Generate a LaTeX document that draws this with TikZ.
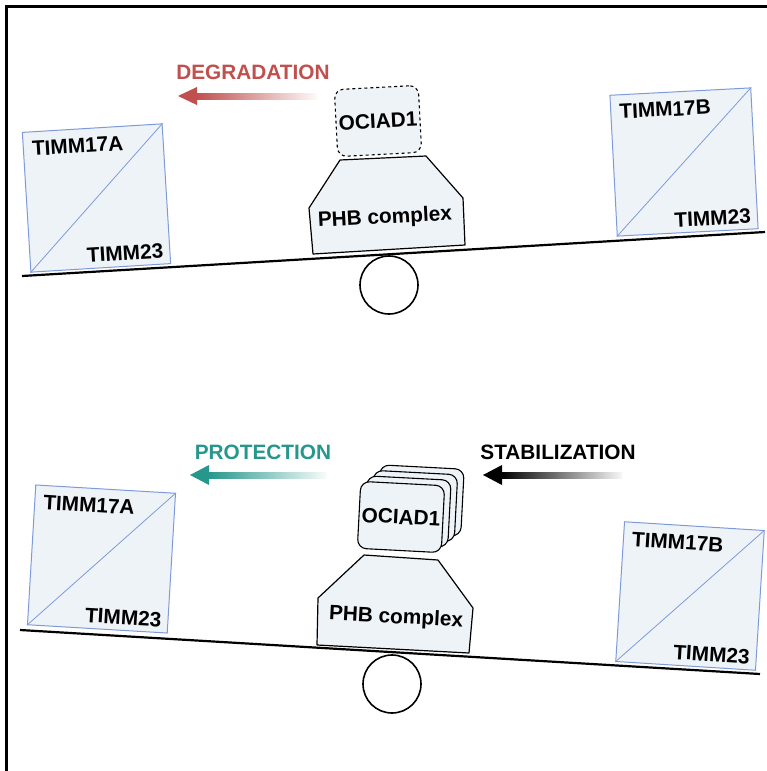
\documentclass[tikz,border=0pt]{standalone}
\usepackage{fontspec}
\setmainfont{Liberation Sans}
\definecolor{degred}{HTML}{C0504D}
\definecolor{protteal}{HTML}{26978B}
\definecolor{boxblue}{HTML}{7E9AD9}
\definecolor{boxfill}{HTML}{EEF3F8}

\begin{document}
\begin{tikzpicture}[x=1pt, y=-1pt,
    every node/.style={font=\fontsize{20.8}{24}\selectfont\bfseries},
    subunit/.style={draw=boxblue, fill=boxfill, line width=1pt, minimum size=140pt, inner sep=0pt},
    toplabel/.style={anchor=north west, inner xsep=9pt, inner ysep=10pt},
    botlabel/.style={anchor=south east, inner xsep=7pt, inner ysep=6pt},
    ociad/.style={draw, fill=boxfill, line width=1.1pt, rounded corners=9pt,
        minimum width=84pt, minimum height=67pt, inner sep=0pt},
    phb/.style={draw, fill=boxfill, line width=1.2pt, line join=round},
    beam/.style={line width=2.2pt},
    pivot/.style={circle, draw, line width=1.6pt, minimum size=58pt, inner sep=0pt}]
    \useasboundingbox (0,0) rectangle (767,771);

    % Frame
    \draw[line width=3.5pt] (6.5,771) -- (6.5,6.5) -- (767,6.5);

    % ---------------- Upper balance ----------------
    \coordinate (beamUpL) at (22,276);
    \coordinate (beamUpR) at (765,232);
    \draw[beam] (beamUpL) -- (beamUpR);
    \node[pivot] (pivotUp) at (389,285) {};

    % TIMM17A / TIMM23 (left)
    \node[subunit, rotate=3.5] (timmAup) at (96.5,198) {};
    \draw[boxblue, line width=0.8pt] (timmAup.south west) -- (timmAup.north east);
    \node[toplabel, rotate=3.5] (timmAupTop) at (timmAup.north west) {TIMM17A};
    \node[botlabel, rotate=3.5] (timmAupBot) at (timmAup.south east) {TIMM23};

    % TIMM17B / TIMM23 (right)
    \node[subunit, rotate=3, minimum size=141pt] (timmBup) at (684,162) {};
    \draw[boxblue, line width=0.8pt] (timmBup.south west) -- (timmBup.north east);
    \node[toplabel, rotate=3] (timmBupTop) at (timmBup.north west) {TIMM17B};
    \node[botlabel, rotate=3] (timmBupBot) at (timmBup.south east) {TIMM23};

    % PHB complex with a single (dashed) OCIAD1
    \draw[phb] (340,160) -- (426,156) -- (463,198) -- (465,245) -- (313,254) -- (309,208) -- cycle;
    \node[rotate=3] (phbUp) at (385,218) {PHB complex};
    \node[ociad, dashed, rotate=3] (ociadUp) at (378,121) {OCIAD1};

    % Degradation arrow
    \node[text=degred] (degLabel) at (253,72) {DEGRADATION};
    \coordinate (degTip) at (178,96);
    \fill[degred] (degTip) -- ++(19,-9) -- ++(0,18) -- cycle;
    \shade[left color=degred, middle color=degred!75, right color=degred!3] (196,93) rectangle (317,99);

    % ---------------- Lower balance ----------------
    \coordinate (beamDnL) at (20,630);
    \coordinate (beamDnR) at (760,674);
    \draw[beam] (beamDnL) -- (beamDnR);
    \node[pivot] (pivotDn) at (392,684) {};

    % TIMM17A / TIMM23 (left)
    \node[subunit, rotate=-3.4] (timmAdn) at (101.5,559) {};
    \draw[boxblue, line width=0.8pt] (timmAdn.south west) -- (timmAdn.north east);
    \node[toplabel, rotate=-3.4] (timmAdnTop) at (timmAdn.north west) {TIMM17A};
    \node[botlabel, rotate=-3.4] (timmAdnBot) at (timmAdn.south east) {TIMM23};

    % TIMM17B / TIMM23 (right)
    \node[subunit, rotate=-3.6] (timmBdn) at (690,596) {};
    \draw[boxblue, line width=0.8pt] (timmBdn.south west) -- (timmBdn.north east);
    \node[toplabel, rotate=-3.6] (timmBdnTop) at (timmBdn.north west) {TIMM17B};
    \node[botlabel, rotate=-3.6] (timmBdnBot) at (timmBdn.south east) {TIMM23};

    % PHB complex with stacked OCIAD1
    \draw[phb] (364,555) -- (438,560) -- (473,608) -- (469,653) -- (317,645) -- (318,598) -- cycle;
    \node[rotate=-3] (phbDn) at (396,618) {PHB complex};
    \foreach \k in {3,2,1}
        \node[ociad, rotate=-3] (ociadBack\k) at ({401+6.5*\k},{517-5.5*\k}) {};
    \node[ociad, rotate=-3] (ociadDn) at (401,517) {OCIAD1};

    % Protection arrow
    \node[text=protteal] (protLabel) at (263,452) {PROTECTION};
    \coordinate (protTip) at (190,475);
    \fill[protteal] (protTip) -- ++(19,-10) -- ++(0,20) -- cycle;
    \shade[left color=protteal, middle color=protteal!75, right color=protteal!3] (208,472) rectangle (327,478);

    % Stabilization arrow
    \node (stabLabel) at (558,452) {STABILIZATION};
    \coordinate (stabTip) at (483,475);
    \fill[black] (stabTip) -- ++(19,-10) -- ++(0,20) -- cycle;
    \shade[left color=black, middle color=black!70, right color=black!3] (501,472) rectangle (622,478);
\end{tikzpicture}
\end{document}
